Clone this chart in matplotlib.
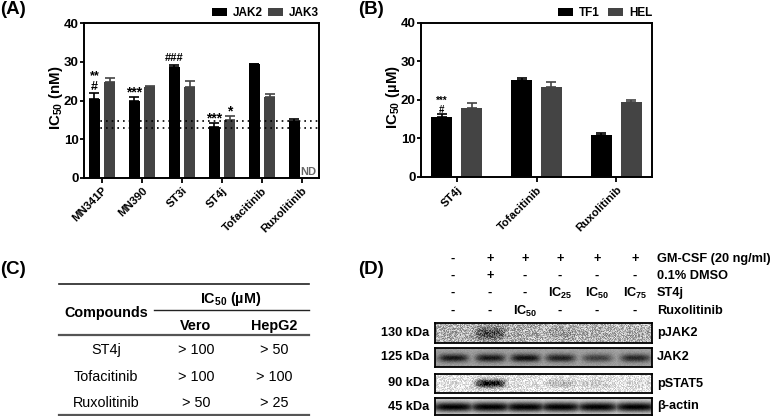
import matplotlib
matplotlib.use("Agg")
import matplotlib.pyplot as plt
import numpy as np

plt.rcParams["font.family"] = ["Liberation Sans", "DejaVu Sans"]
plt.rcParams["font.weight"] = "bold"
plt.rcParams["axes.labelweight"] = "bold"
plt.rcParams["mathtext.fontset"] = "custom"
plt.rcParams["mathtext.rm"] = "Liberation Sans:bold"
plt.rcParams["mathtext.bf"] = "Liberation Sans:bold"
plt.rcParams["mathtext.default"] = "rm"

W, H = 774, 416
DARK = "#000000"
GREY = "#444444"

# panel A
compounds_a = ["MN341P", "MN390", "ST3i", "ST4j", "Tofacitinib", "Ruxolitinib"]
jak2 = [20.4, 20.0, 28.7, 13.2, 29.3, 14.7]
jak2_err = [1.5, 1.0, 0.5, 1.1, 0.2, 0.6]
jak3 = [24.7, 23.5, 23.4, 15.0, 21.0, 0.0]
jak3_err = [1.0, 0.3, 1.6, 1.1, 0.7, 0.0]
ref_lines = [13.0, 14.8]

# panel B
compounds_b = ["ST4j", "Tofacitinib", "Ruxolitinib"]
tf1 = [15.7, 25.3, 10.8]
tf1_err = [0.6, 0.4, 0.7]
hel = [18.0, 23.5, 19.4]
hel_err = [1.2, 1.3, 0.5]

# panel C
table_rows = ["ST4j", "Tofacitinib", "Ruxolitinib"]
vero = ["> 100", "> 100", "> 50"]
hepg2 = ["> 50", "> 100", "> 25"]

# panel D
gm_csf = ["-", "+", "+", "+", "+", "+"]
dmso = ["-", "+", "-", "-", "-", "-"]
st4j = ["-", "-", "-", "IC$_{25}$", "IC$_{50}$", "IC$_{75}$"]
ruxo = ["-", "-", "IC$_{50}$", "-", "-", "-"]
treat_names = ["GM-CSF (20 ng/ml)", "0.1% DMSO", "ST4j", "Ruxolitinib"]
blot_names = ["pJAK2", "JAK2", "pSTAT5", "β-actin"]
blot_sizes = ["130 kDa", "125 kDa", "90 kDa", "45 kDa"]
pjak2_bands = [0.05, 0.60, 0.05, 0.15, 0.05, 0.05]
jak2_bands = [0.85, 0.85, 0.90, 0.80, 0.60, 0.75]
pstat5_bands = [0.02, 0.95, 0.02, 0.20, 0.12, 0.05]
actin_bands = [1.0, 1.0, 1.0, 1.0, 1.0, 1.0]

fig = plt.figure(figsize=(W / 100, H / 100), dpi=100)


def px_axes(left, top, right, bottom, **kw):
    return fig.add_axes([left / W, 1 - bottom / H, (right - left) / W, (bottom - top) / H], **kw)


def px_text(x, y, s, **kw):
    kw.setdefault("va", "center")
    kw.setdefault("fontsize", 9.2)
    return fig.text(x / W, 1 - y / H, s, **kw)


def px_line(x0, x1, y, lw=1.2, color="#222222"):
    fig.add_artist(plt.Line2D([x0 / W, x1 / W], [1 - y / H, 1 - y / H], lw=lw, color=color))


def bar_panel(ax, names, a, a_err, b, b_err, width, offset, labels, ylabel, xlim, anchor, colgap):
    xs = np.arange(len(names))
    ekw = dict(lw=1.2, capthick=1.2, capsize=3.5)
    ax.bar(xs - offset, a, width, color=DARK, label=labels[0], zorder=2)
    ax.errorbar(xs - offset, a, yerr=[np.zeros(len(a)), a_err], fmt="none", ecolor=DARK, zorder=1, **ekw)
    ax.bar(xs + offset, b, width, color=GREY, label=labels[1], zorder=2)
    has_b = np.array(b) > 0
    ax.errorbar((xs + offset)[has_b], np.array(b)[has_b],
                yerr=[np.zeros(has_b.sum()), np.array(b_err)[has_b]],
                fmt="none", ecolor=GREY, zorder=1, **ekw)
    ax.set_xlim(*xlim)
    ax.set_ylim(0, 40)
    ax.set_yticks([0, 10, 20, 30, 40])
    ax.set_xticks(xs)
    ax.set_xticklabels(names, rotation=45, ha="right", rotation_mode="anchor", fontsize=8.2)
    ax.tick_params(axis="y", labelsize=9.5, width=1.3, length=3, pad=1)
    ax.tick_params(axis="x", width=1.3, length=3.5, pad=2)
    for sp in ax.spines.values():
        sp.set_linewidth(1.4)
    ax.set_ylabel(ylabel, fontsize=10.8, labelpad=-1, y=0.52)
    ax.legend(loc="lower right", bbox_to_anchor=anchor, ncol=2, frameon=False, fontsize=8.5,
              handlelength=1.27, handleheight=0.76, columnspacing=colgap, handletextpad=0.5,
              borderpad=0, borderaxespad=0)


# bar charts
ax_a = px_axes(84, 23, 319, 178)
bar_panel(ax_a, compounds_a, jak2, jak2_err, jak3, jak3_err, 0.29, 0.19, ["JAK2", "JAK3"],
          "IC$_{50}$ (nM)", (-0.45, 5.425), (1.0, 1.025), 0.42)
for level in ref_lines:
    ax_a.plot([-0.32, 5.425], [level, level], color="black", lw=1.2, ls=(0, (1, 2.4)), zorder=3)
star_kw = dict(ha="center", va="center", fontsize=10)
ax_a.text(-0.19, 24.9, "**\n#", ha="center", va="center", fontsize=9, linespacing=0.85)
ax_a.text(0.81, 22.0, "***", **star_kw)
ax_a.text(1.81, 30.9, "###", fontsize=8, ha="center", va="center")
ax_a.text(2.81, 15.4, "***", **star_kw)
ax_a.text(3.19, 17.2, "*", **star_kw)
ax_a.text(5.17, 1.6, "ND", fontsize=8, color="#666666", ha="center", va="center")

ax_b = px_axes(421, 23, 652, 177)
bar_panel(ax_b, compounds_b, tf1, tf1_err, hel, hel_err, 0.27, 0.1875, ["TF1", "HEL"],
          "IC$_{50}$ (µM)", (-0.444, 2.444), (1.0, 1.025), 0.7)
ax_b.text(-0.1875, 18.5, "***\n#", fontsize=7, ha="center", va="center", linespacing=0.9)

# panel letters
px_text(0, 10, "(A)", fontsize=13.5)
px_text(358, 10, "(B)", fontsize=13.5)
px_text(0, 269, "(C)", fontsize=13.5)
px_text(358, 269, "(D)", fontsize=13.5)

# table
px_line(59, 309, 284, lw=1.2)
px_line(154, 309, 310, lw=1.0)
px_line(59, 309, 335, lw=1.6, color="#555555")
px_line(59, 309, 415, lw=1.6, color="#555555")
px_text(106, 313, "Compounds", ha="center", fontsize=10.4)
px_text(231, 299, "IC$_{50}$ (µM)", ha="center", fontsize=10.4)
px_text(196, 326, "Vero", ha="center", fontsize=10.4)
px_text(274, 326, "HepG2", ha="center", fontsize=10.4)
for y, name, v, h in zip([350, 377, 403], table_rows, vero, hepg2):
    px_text(106, y, name, ha="center", fontsize=10.4, fontweight="normal")
    px_text(196, y, v, ha="center", fontsize=10.4, fontweight="normal")
    px_text(274, y, h, ha="center", fontsize=10.4, fontweight="normal")

# treatment grid above the blots
lanes = [453, 490, 525, 560, 597, 635]
for y, marks, name in zip([259, 276, 293, 311], [gm_csf, dmso, st4j, ruxo], treat_names):
    for x, m in zip(lanes, marks):
        px_text(x, y, m, ha="center")
    px_text(657, y, name, ha="left")


def blot(top, bottom, bands, back, band_h, grain, name, size, band_w=15):
    left, right = 435, 652
    ax = px_axes(left, top, right, bottom)
    yy, xx = np.mgrid[0:bottom - top, 0:right - left]
    x = left + xx
    y = top + yy
    mid = (top + bottom) / 2
    dark = np.zeros(x.shape)
    for c, s in zip(lanes, bands):
        dark = np.maximum(dark, s * np.exp(-((x - c) / band_w) ** 4) * np.exp(-((y - mid) / band_h) ** 2))
    # film grain for the blot picture only, not chart data
    noise = np.modf(np.abs(np.sin(xx * 12.9898 + yy * 78.233)) * 43758.5453)[0]
    img = back * (1 - dark) + (noise - 0.5) * grain
    ax.imshow(img, cmap="gray", vmin=0, vmax=1, aspect="auto", interpolation="nearest")
    ax.set_xticks([])
    ax.set_yticks([])
    for sp in ax.spines.values():
        sp.set_linewidth(1.3)
    px_text(429, (top + bottom) / 2, size, ha="right")
    px_text(657, (top + bottom) / 2, name, ha="left")


blot(323, 343, pjak2_bands, 0.72, 6, 0.45, blot_names[0], blot_sizes[0])
blot(348, 367, jak2_bands, 0.62, 4, 0.06, blot_names[1], blot_sizes[1])
blot(374, 393, pstat5_bands, 0.90, 3.5, 0.30, blot_names[2], blot_sizes[2])
blot(398, 415, actin_bands, 0.85, 5, 0.04, blot_names[3], blot_sizes[3], band_w=22)

fig.savefig("out.png", dpi=100)
